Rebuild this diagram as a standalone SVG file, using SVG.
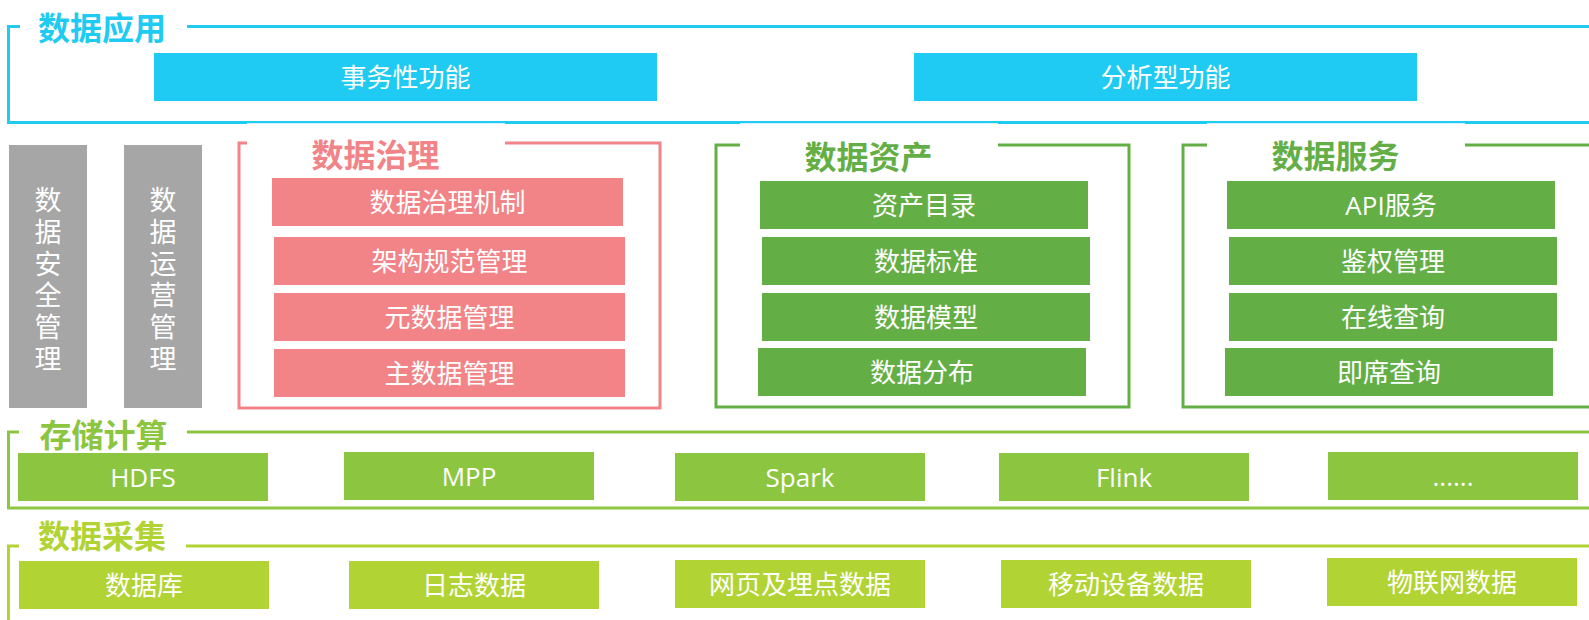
<svg xmlns="http://www.w3.org/2000/svg" width="1589" height="620" viewBox="0 0 1589 620">
<style>
.frame{fill:none;stroke-width:3}
.title{font-family:"Noto Sans CJK SC","Liberation Sans",sans-serif;font-size:32px;font-weight:bold;text-anchor:middle;dominant-baseline:central}
.lbl{font-family:"Open Sans","Noto Sans CJK SC",sans-serif;font-size:26px;fill:#ffffff;text-anchor:middle;dominant-baseline:central}
.vlbl{font-family:"Noto Sans CJK SC",sans-serif;font-size:27px;fill:#ffffff;text-anchor:middle;writing-mode:vertical-rl;letter-spacing:4.7px}
.blue{fill:#1FCBF2}
.pink{fill:#F28387}
.dg{fill:#64AE46}
.lg{fill:#8CC53F}
.yg{fill:#B2D334}
.gray{fill:#A6A6A6}
</style>
<rect width="1589" height="620" fill="#ffffff"/>
<g id="frames">
<path class="frame" stroke="#1FCBF2" d="M20,26.5 H8.5 V122.5 H1592 M187,26.5 H1592"/>
<rect x="247" y="123.2" width="258" height="12" fill="#ffffff"/>
<rect x="740" y="123.2" width="258" height="12" fill="#ffffff"/>
<rect x="1207" y="123.2" width="258" height="12" fill="#ffffff"/>
<path class="frame" stroke="#F28387" d="M247,143 H239 V408 H660 V143 H505"/>
<path class="frame" stroke="#64AE46" d="M740,145 H716 V407 H1129 V145 H998"/>
<path class="frame" stroke="#64AE46" d="M1207,145 H1183 V407 H1592 M1465,145 H1592"/>
<path class="frame" stroke="#8CC53F" d="M19,432 H8.5 V508 H1592 M187,432 H1592"/>
<path class="frame" stroke="#B2D334" d="M19,546 H8.5 V625 M186,546 H1592"/>
</g>
<g id="titles">
<text class="title" x="102" y="26" fill="#1FCBF2">数据应用</text>
<text class="title" x="375.5" y="153" fill="#F28387">数据治理</text>
<text class="title" x="868.5" y="155" fill="#64AE46">数据资产</text>
<text class="title" x="1335.5" y="154" fill="#64AE46">数据服务</text>
<text class="title" x="103.5" y="432.5" fill="#8CC53F">存储计算</text>
<text class="title" x="102" y="534" fill="#B2D334">数据采集</text>
</g>
<g id="app-transaction"><rect class="blue" x="154" y="53" width="503" height="48"/><text class="lbl" x="405.5" y="77">事务性功能</text></g>
<g id="app-analysis"><rect class="blue" x="914" y="53" width="503" height="48"/><text class="lbl" x="1165.5" y="77">分析型功能</text></g>
<g id="security"><rect class="gray" x="9" y="145" width="78" height="263"/>
<text class="vlbl" x="48" y="281.5">数据安全管理</text></g>
<g id="operation"><rect class="gray" x="124" y="145" width="78" height="263"/>
<text class="vlbl" x="163" y="281.5">数据运营管理</text></g>
<g id="gov-mechanism"><rect class="pink" x="272" y="178" width="351" height="48"/><text class="lbl" x="447.5" y="202">数据治理机制</text></g>
<g id="gov-arch"><rect class="pink" x="274" y="237" width="351" height="48"/><text class="lbl" x="449.5" y="261">架构规范管理</text></g>
<g id="gov-meta"><rect class="pink" x="274" y="293" width="351" height="48"/><text class="lbl" x="449.5" y="317">元数据管理</text></g>
<g id="gov-master"><rect class="pink" x="274" y="349" width="351" height="48"/><text class="lbl" x="449.5" y="373">主数据管理</text></g>
<g id="asset-catalog"><rect class="dg" x="760" y="181" width="328" height="48"/><text class="lbl" x="924" y="205">资产目录</text></g>
<g id="asset-standard"><rect class="dg" x="762" y="237" width="328" height="48"/><text class="lbl" x="926" y="261">数据标准</text></g>
<g id="asset-model"><rect class="dg" x="762" y="293" width="328" height="48"/><text class="lbl" x="926" y="317">数据模型</text></g>
<g id="asset-dist"><rect class="dg" x="758" y="348" width="328" height="48"/><text class="lbl" x="922" y="372">数据分布</text></g>
<g id="svc-api"><rect class="dg" x="1227" y="181" width="328" height="48"/><text class="lbl" x="1391" y="205">API服务</text></g>
<g id="svc-auth"><rect class="dg" x="1229" y="237" width="328" height="48"/><text class="lbl" x="1393" y="261">鉴权管理</text></g>
<g id="svc-online"><rect class="dg" x="1229" y="293" width="328" height="48"/><text class="lbl" x="1393" y="317">在线查询</text></g>
<g id="svc-adhoc"><rect class="dg" x="1225" y="348" width="328" height="48"/><text class="lbl" x="1389" y="372">即席查询</text></g>
<g id="st-hdfs"><rect class="lg" x="18" y="453" width="250" height="48"/><text class="lbl" x="143" y="477">HDFS</text></g>
<g id="st-mpp"><rect class="lg" x="344" y="452" width="250" height="48"/><text class="lbl" x="469" y="476">MPP</text></g>
<g id="st-spark"><rect class="lg" x="675" y="453" width="250" height="48"/><text class="lbl" x="800" y="477">Spark</text></g>
<g id="st-flink"><rect class="lg" x="999" y="453" width="250" height="48"/><text class="lbl" x="1124" y="477">Flink</text></g>
<g id="st-more"><rect class="lg" x="1328" y="452" width="250" height="48"/><text class="lbl" x="1453" y="476">......</text></g>
<g id="co-db"><rect class="yg" x="19" y="561" width="250" height="48"/><text class="lbl" x="144" y="585">数据库</text></g>
<g id="co-log"><rect class="yg" x="349" y="561" width="250" height="48"/><text class="lbl" x="474" y="585">日志数据</text></g>
<g id="co-web"><rect class="yg" x="675" y="560" width="250" height="48"/><text class="lbl" x="800" y="584">网页及埋点数据</text></g>
<g id="co-mobile"><rect class="yg" x="1001" y="560" width="250" height="48"/><text class="lbl" x="1126" y="584">移动设备数据</text></g>
<g id="co-iot"><rect class="yg" x="1327" y="558" width="250" height="48"/><text class="lbl" x="1452" y="582">物联网数据</text></g>
<g id="connectors"></g>
</svg>
